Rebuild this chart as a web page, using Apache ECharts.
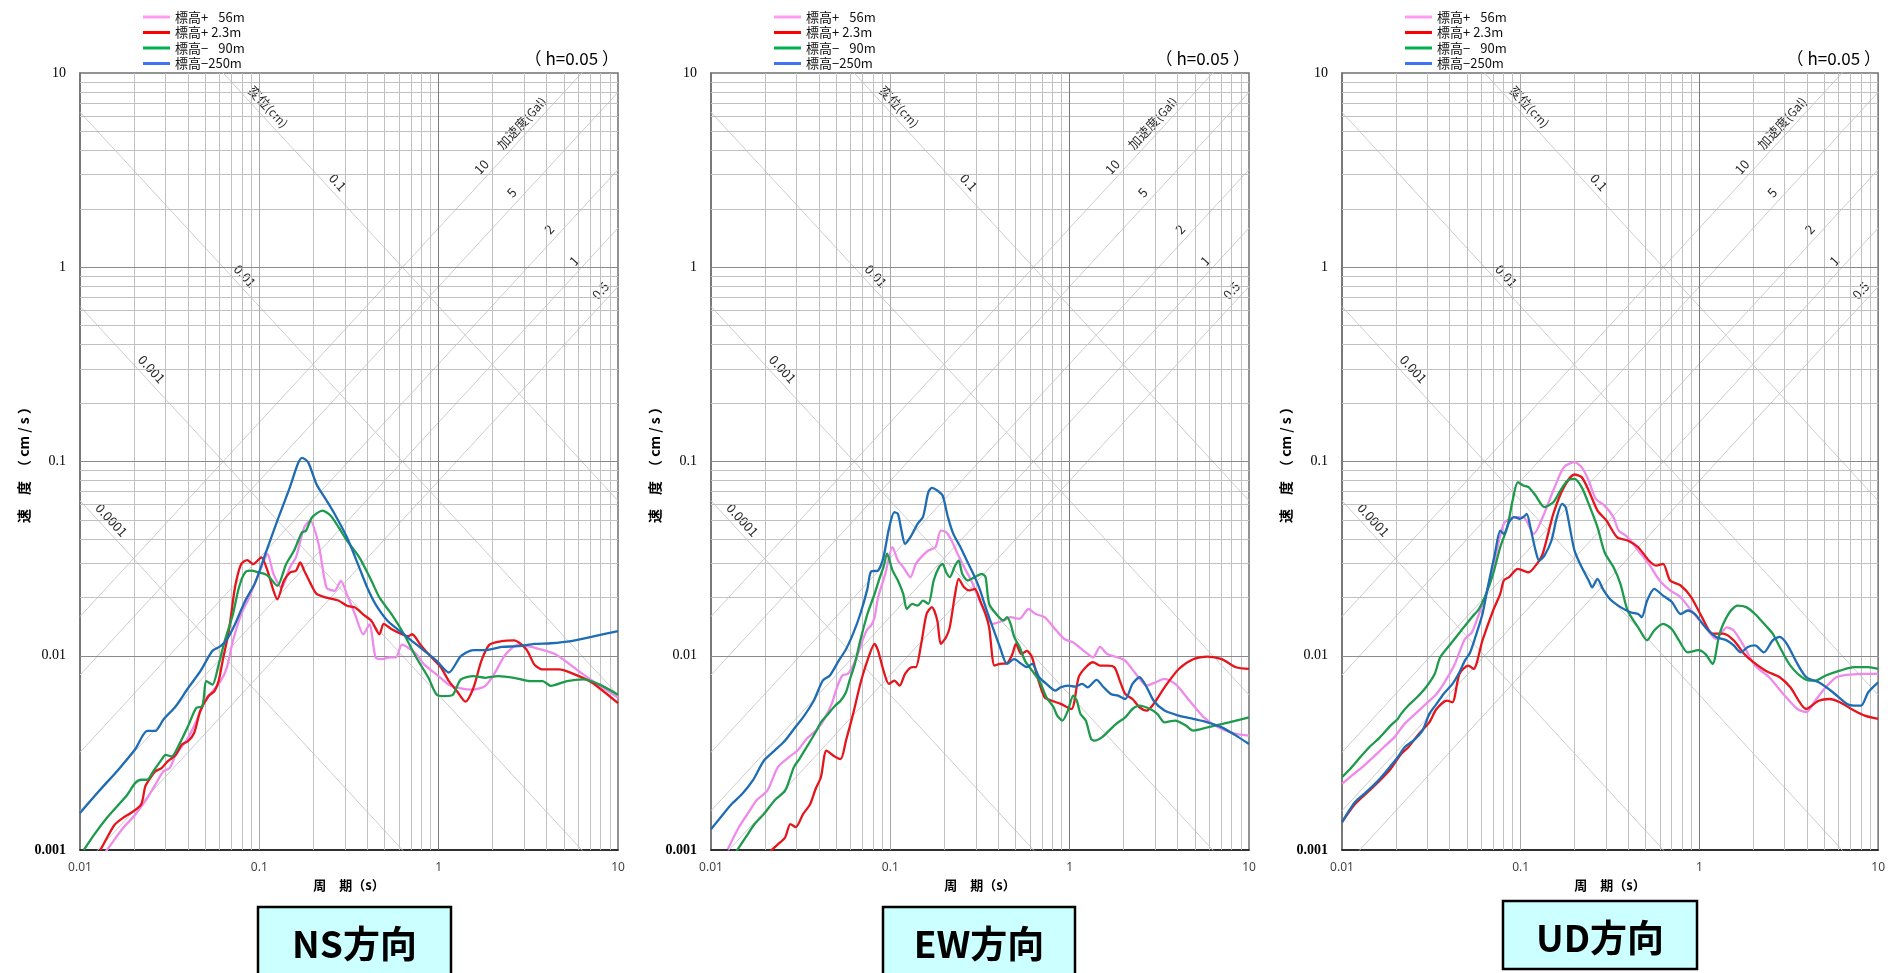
<!DOCTYPE html>
<html><head><meta charset="utf-8">
<script src="https://cdn.jsdelivr.net/npm/echarts@6/dist/echarts.min.js"></script>
<style>html,body{margin:0;padding:0;background:#fff}#c{width:1888px;height:973px}</style>
</head><body><div id="c"></div>
<script>
// ---------------- DATA ----------------
const PANEL_TITLES = ['NS方向', 'EW方向', 'UD方向'];
const SERIES_NAMES = ['標高+ \u200756m', '標高+ 2.3m', '標高− \u200790m', '標高−250m'];
const PERIOD_RANGE = [0.01, 10];
const VELOCITY_RANGE = [0.001, 10];
const DISP_LINES = [0.0001, 0.001, 0.01, 0.1];      // cm
const ACC_LINES = [0.5, 1, 2, 5, 10];               // Gal
const DAMPING_TEXT = '（ h=0.05 ）';

// NS
const NS_P56 = [[0.0132,0.00092],[0.0148,0.00106],[0.0173,0.00129],[0.0203,0.00152],[0.0237,0.00185],[0.0263,0.00217],[0.0292,0.00254],[0.0316,0.00264],[0.0342,0.00309],[0.040,0.00377],[0.0445,0.0046],[0.0493,0.00583],[0.0548,0.00657],[0.0608,0.0074],[0.0658,0.00867],[0.0712,0.0119],[0.0791,0.0163],[0.0877,0.0199],[0.0948,0.0238],[0.1026,0.0285],[0.111,0.0334],[0.120,0.0263],[0.133,0.0224],[0.148,0.0285],[0.160,0.0321],[0.178,0.0458],[0.192,0.0496],[0.214,0.0376],[0.237,0.0224],[0.263,0.0216],[0.285,0.0243],[0.308,0.0207],[0.342,0.0163],[0.380,0.0129],[0.411,0.0145],[0.445,0.0098],[0.481,0.0096],[0.533,0.0098],[0.577,0.0098],[0.624,0.0114],[0.676,0.0110],[0.750,0.0102],[0.832,0.0090],[0.975,0.0080],[1.14,0.0071],[1.33,0.0068],[1.56,0.0067],[1.82,0.0070],[2.03,0.0080],[2.37,0.0102],[2.77,0.0114],[3.42,0.0110],[4.45,0.0102],[6.08,0.0083],[7.91,0.0070],[10,0.0061]];
const NS_P23 = [[0.0130,0.0010],[0.0141,0.00115],[0.0156,0.00135],[0.0173,0.00146],[0.0192,0.00155],[0.0219,0.00171],[0.0231,0.00212],[0.0243,0.0023],[0.0263,0.00254],[0.0285,0.00264],[0.0308,0.00286],[0.0342,0.00309],[0.037,0.00349],[0.040,0.00363],[0.0433,0.0040],[0.0468,0.00518],[0.052,0.00619],[0.0562,0.00657],[0.0593,0.0074],[0.0624,0.0094],[0.0676,0.0134],[0.0731,0.0224],[0.0791,0.0296],[0.0855,0.0311],[0.0925,0.0296],[0.1026,0.0321],[0.111,0.0274],[0.120,0.0216],[0.126,0.0195],[0.137,0.0243],[0.148,0.0268],[0.160,0.0274],[0.169,0.0302],[0.178,0.0274],[0.192,0.0238],[0.208,0.0209],[0.237,0.0199],[0.277,0.0192],[0.308,0.0181],[0.342,0.0177],[0.380,0.0163],[0.422,0.0151],[0.468,0.0129],[0.493,0.0146],[0.548,0.0137],[0.624,0.0129],[0.676,0.0126],[0.711,0.0129],[0.791,0.0114],[0.877,0.0102],[1.03,0.0087],[1.14,0.0074],[1.26,0.0066],[1.41,0.0058],[1.56,0.0068],[1.73,0.0094],[1.92,0.0114],[2.25,0.0119],[2.63,0.0120],[3.08,0.0108],[3.42,0.0090],[3.80,0.0085],[4.68,0.0085],[5.77,0.0080],[7.11,0.0073],[10,0.0057]];
const NS_M90 = [[0.0105,0.00100],[0.0120,0.00120],[0.0141,0.00146],[0.0164,0.00171],[0.0183,0.00192],[0.0203,0.00221],[0.0219,0.0023],[0.0237,0.0023],[0.0256,0.00254],[0.0285,0.00292],[0.030,0.00309],[0.0324,0.00303],[0.0361,0.00356],[0.040,0.00433],[0.0445,0.00539],[0.0481,0.0055],[0.0507,0.0074],[0.0548,0.0071],[0.0593,0.0090],[0.0641,0.0119],[0.0712,0.0163],[0.0769,0.0224],[0.0832,0.0268],[0.0901,0.0274],[0.100,0.0268],[0.108,0.0263],[0.114,0.0253],[0.126,0.0229],[0.141,0.0296],[0.156,0.0347],[0.173,0.0432],[0.182,0.0440],[0.197,0.0516],[0.225,0.0559],[0.250,0.0526],[0.277,0.0458],[0.308,0.0391],[0.361,0.0321],[0.422,0.0243],[0.468,0.0199],[0.548,0.0163],[0.641,0.0129],[0.750,0.0098],[0.877,0.0077],[0.975,0.0063],[1.08,0.0062],[1.20,0.0063],[1.33,0.00755],[1.56,0.00785],[1.82,0.0077],[2.14,0.00785],[2.63,0.0077],[3.24,0.0074],[3.80,0.0074],[4.22,0.0070],[5.20,0.0074],[6.41,0.00755],[7.91,0.0071],[10,0.0063]];
const NS_M250 = [[0.01,0.00155],[0.0127,0.0020],[0.0164,0.0026],[0.0203,0.0033],[0.0237,0.0041],[0.0263,0.0041],[0.0292,0.0047],[0.0342,0.0055],[0.040,0.0068],[0.0468,0.0083],[0.0548,0.0106],[0.0608,0.0112],[0.0658,0.0121],[0.0731,0.0145],[0.0832,0.0191],[0.0948,0.0238],[0.108,0.0334],[0.126,0.0496],[0.148,0.0736],[0.164,0.0973],[0.173,0.1045],[0.187,0.0992],[0.208,0.0767],[0.237,0.063],[0.263,0.0537],[0.308,0.0407],[0.361,0.0284],[0.40,0.0224],[0.445,0.0184],[0.52,0.0151],[0.608,0.0134],[0.711,0.0119],[0.832,0.0106],[0.975,0.0094],[1.14,0.0082],[1.33,0.00995],[1.56,0.0107],[1.82,0.0107],[2.25,0.0111],[2.77,0.0112],[3.42,0.0115],[4.22,0.0116],[5.48,0.0119],[7.11,0.0125],[10,0.0134]];

// EW
const EW_P56 = [[0.0124,0.00101],[0.0143,0.00131],[0.0164,0.00159],[0.0179,0.00180],[0.0206,0.00202],[0.0236,0.00267],[0.0271,0.00300],[0.0304,0.00325],[0.0341,0.00373],[0.0392,0.00420],[0.0429,0.00473],[0.0471,0.00565],[0.0504,0.00688],[0.0540,0.00791],[0.0579,0.00806],[0.0620,0.0089],[0.0664,0.0104],[0.0712,0.0125],[0.0745,0.0137],[0.0780,0.0143],[0.0817,0.0158],[0.0855,0.0200],[0.0937,0.0264],[0.1028,0.0362],[0.1102,0.0309],[0.1180,0.0286],[0.1294,0.0254],[0.1387,0.0297],[0.1486,0.0322],[0.1629,0.0348],[0.1785,0.0362],[0.1912,0.0441],[0.2048,0.0433],[0.2194,0.0392],[0.2350,0.0341],[0.2577,0.0286],[0.2825,0.0244],[0.3097,0.0200],[0.3396,0.0164],[0.3723,0.0146],[0.4273,0.0152],[0.4685,0.0158],[0.5256,0.0155],[0.5895,0.0174],[0.6463,0.0164],[0.7253,0.0158],[0.8135,0.0140],[0.933,0.0122],[1.047,0.0117],[1.230,0.0104],[1.349,0.0098],[1.478,0.0111],[1.620,0.0102],[1.86,0.0098],[2.04,0.00944],[2.34,0.00806],[2.69,0.00702],[3.01,0.00730],[3.38,0.00760],[3.88,0.00716],[4.66,0.00587],[5.60,0.00482],[6.73,0.00428],[8.47,0.00396],[10,0.00388]];
const EW_P23 = [[0.0215,0.00099],[0.0236,0.00107],[0.0259,0.00116],[0.0277,0.00136],[0.0297,0.00131],[0.0326,0.00153],[0.0357,0.00172],[0.0383,0.00206],[0.0410,0.00237],[0.0440,0.00325],[0.0482,0.00306],[0.0528,0.00294],[0.0566,0.00366],[0.0620,0.00502],[0.0680,0.00716],[0.0745,0.00944],[0.0817,0.0115],[0.0855,0.0106],[0.0916,0.00838],[0.0982,0.00716],[0.1052,0.00745],[0.1128,0.00702],[0.1208,0.00806],[0.1324,0.00873],[0.1387,0.00873],[0.1486,0.0115],[0.1592,0.0164],[0.1705,0.0178],[0.1827,0.0152],[0.1912,0.0115],[0.2048,0.0125],[0.2144,0.0140],[0.2297,0.0208],[0.2405,0.0249],[0.2577,0.0225],[0.2761,0.0217],[0.2958,0.0221],[0.3169,0.0192],[0.3396,0.0164],[0.3556,0.0140],[0.3809,0.0089],[0.4081,0.00908],[0.4474,0.00915],[0.4794,0.0102],[0.5019,0.0115],[0.5378,0.0102],[0.5762,0.0106],[0.6172,0.0098],[0.6613,0.00775],[0.7253,0.00611],[0.7950,0.00587],[0.8917,0.00565],[1.023,0.00532],[1.122,0.00775],[1.230,0.00873],[1.349,0.00926],[1.478,0.0089],[1.620,0.0089],[1.776,0.00873],[1.903,0.00745],[2.04,0.00636],[2.24,0.00599],[2.45,0.00543],[2.69,0.00522],[2.94,0.00565],[3.38,0.00688],[4.06,0.00855],[4.88,0.0096],[5.87,0.0099],[7.05,0.0096],[8.47,0.00873],[10,0.00855]];
const EW_M90 = [[0.0139,0.00099],[0.0156,0.00116],[0.0175,0.00136],[0.0197,0.00153],[0.0226,0.00180],[0.0259,0.00202],[0.0290,0.00267],[0.0311,0.00294],[0.0341,0.00338],[0.0383,0.00404],[0.0410,0.00454],[0.0450,0.00502],[0.0493,0.00554],[0.0528,0.00587],[0.0566,0.00649],[0.0592,0.00745],[0.0634,0.00908],[0.0680,0.0120],[0.0745,0.0164],[0.0780,0.0185],[0.0817,0.0208],[0.0875,0.0254],[0.0916,0.0286],[0.0959,0.0335],[0.1028,0.0275],[0.1102,0.0244],[0.1180,0.0208],[0.1236,0.0174],[0.1324,0.0185],[0.1419,0.0181],[0.1520,0.0192],[0.1629,0.0185],[0.1745,0.0244],[0.1869,0.0286],[0.1957,0.0297],[0.2048,0.0269],[0.2144,0.0254],[0.2297,0.0291],[0.2405,0.0309],[0.2518,0.0264],[0.2698,0.0244],[0.2958,0.0254],[0.3243,0.0264],[0.3396,0.0254],[0.3556,0.0185],[0.3898,0.0164],[0.4273,0.0152],[0.4474,0.0158],[0.4685,0.0146],[0.4905,0.0125],[0.5256,0.0111],[0.5631,0.00944],[0.6172,0.00838],[0.6766,0.00745],[0.7421,0.00611],[0.8135,0.00543],[0.8517,0.00492],[0.912,0.00464],[0.977,0.00522],[1.047,0.00623],[1.096,0.00587],[1.148,0.00502],[1.230,0.00464],[1.318,0.00373],[1.380,0.00366],[1.512,0.00380],[1.658,0.00412],[1.817,0.00446],[2.04,0.00482],[2.24,0.00532],[2.45,0.00554],[2.81,0.00532],[3.08,0.00502],[3.38,0.00454],[3.88,0.00464],[4.45,0.00437],[4.88,0.00412],[5.87,0.00428],[7.73,0.00454],[10,0.00482]];
const EW_M250 = [[0.0100,0.00128],[0.0113,0.00147],[0.0130,0.00172],[0.0149,0.00194],[0.0171,0.00228],[0.0197,0.00288],[0.0226,0.00325],[0.0259,0.00366],[0.0290,0.00420],[0.0326,0.00482],[0.0374,0.00587],[0.0420,0.00745],[0.0460,0.00791],[0.0516,0.00944],[0.0566,0.0108],[0.0620,0.0130],[0.0680,0.0164],[0.0745,0.0221],[0.0780,0.0271],[0.0855,0.0275],[0.0916,0.0322],[0.0982,0.0450],[0.1052,0.0548],[0.1102,0.0537],[0.1154,0.0441],[0.1208,0.0377],[0.1294,0.0408],[0.1419,0.0478],[0.1520,0.0517],[0.1629,0.0695],[0.1705,0.0732],[0.1827,0.0709],[0.1957,0.0668],[0.2095,0.0517],[0.2245,0.0424],[0.2461,0.0362],[0.2698,0.0303],[0.2958,0.0254],[0.3169,0.0217],[0.3396,0.0178],[0.3723,0.0140],[0.4081,0.0111],[0.4474,0.00908],[0.4905,0.0096],[0.5378,0.00908],[0.5762,0.00873],[0.6172,0.00908],[0.6766,0.00775],[0.7421,0.00716],[0.8324,0.00662],[0.8917,0.00688],[0.977,0.00702],[1.071,0.00694],[1.175,0.00716],[1.259,0.00688],[1.412,0.00751],[1.547,0.00688],[1.697,0.00636],[1.86,0.00623],[2.04,0.00599],[2.24,0.00716],[2.45,0.00775],[2.69,0.00688],[2.94,0.00587],[3.38,0.00522],[4.06,0.00492],[4.88,0.00473],[5.87,0.00454],[7.05,0.00428],[8.47,0.00388],[10,0.00351]];

// UD
const UD_P56 = [[0.0100,0.00219],[0.0113,0.00241],[0.0130,0.00267],[0.0149,0.00300],[0.0171,0.00338],[0.0196,0.00380],[0.0224,0.00446],[0.0257,0.00502],[0.0295,0.00565],[0.0338,0.00636],[0.0370,0.00716],[0.0424,0.0089],[0.0487,0.0122],[0.0533,0.0132],[0.0584,0.0164],[0.0640,0.0208],[0.0701,0.0286],[0.0804,0.0478],[0.0921,0.0517],[0.1033,0.0517],[0.1184,0.0424],[0.1327,0.0517],[0.1522,0.0709],[0.1745,0.0935],[0.2000,0.0992],[0.2192,0.0935],[0.2401,0.0798],[0.2629,0.0642],[0.2946,0.0593],[0.3302,0.0517],[0.3535,0.0441],[0.3963,0.0408],[0.4543,0.0348],[0.5212,0.0297],[0.5980,0.0244],[0.6855,0.0217],[0.7853,0.0200],[0.9004,0.0171],[1.081,0.0140],[1.239,0.0122],[1.420,0.0140],[1.556,0.0135],[1.784,0.0111],[2.046,0.0089],[2.456,0.00775],[2.946,0.00636],[3.536,0.00532],[3.963,0.00512],[4.442,0.00587],[5.094,0.00688],[5.840,0.00775],[7.006,0.0080],[8.411,0.00806],[10,0.00806]];
const UD_P23 = [[0.0100,0.00139],[0.0118,0.00172],[0.0142,0.00202],[0.0163,0.00228],[0.0187,0.00261],[0.0214,0.00312],[0.0235,0.00338],[0.0269,0.00396],[0.0308,0.00454],[0.0338,0.00532],[0.0387,0.00587],[0.0415,0.00576],[0.0454,0.00806],[0.0509,0.0089],[0.0545,0.00855],[0.0611,0.0120],[0.0701,0.0171],[0.0768,0.0208],[0.0804,0.0244],[0.0861,0.0254],[0.0964,0.0280],[0.1106,0.0269],[0.1211,0.0291],[0.1327,0.0335],[0.1522,0.0537],[0.1745,0.0738],[0.2000,0.0857],[0.2192,0.0831],[0.2401,0.0709],[0.2689,0.0559],[0.3015,0.0497],[0.3456,0.0408],[0.3963,0.0392],[0.4543,0.0362],[0.5212,0.0309],[0.5713,0.0291],[0.6258,0.0297],[0.6855,0.0244],[0.7853,0.0230],[0.9004,0.0200],[1.033,0.0158],[1.184,0.0130],[1.357,0.0130],[1.556,0.0120],[1.784,0.0102],[1.955,0.00944],[2.346,0.00838],[2.815,0.00775],[3.227,0.00688],[3.963,0.00532],[4.649,0.00587],[5.331,0.00599],[6.112,0.00576],[7.333,0.00522],[8.411,0.00492],[10,0.00473]];
const UD_M90 = [[0.0100,0.00237],[0.0111,0.00261],[0.0124,0.00294],[0.0142,0.00338],[0.0163,0.00380],[0.0187,0.00437],[0.0205,0.00473],[0.0214,0.00502],[0.0235,0.00554],[0.0263,0.00611],[0.0295,0.00688],[0.0330,0.00806],[0.0354,0.0098],[0.0405,0.0115],[0.0465,0.0135],[0.0533,0.0158],[0.0584,0.0174],[0.0640,0.0208],[0.0701,0.0264],[0.0768,0.0362],[0.0841,0.0459],[0.0901,0.0630],[0.0964,0.0783],[0.1033,0.0752],[0.1106,0.0738],[0.1211,0.0668],[0.1357,0.0582],[0.1522,0.0617],[0.1667,0.0709],[0.1827,0.0798],[0.2000,0.0814],[0.2192,0.0738],[0.2401,0.0605],[0.2689,0.0459],[0.2946,0.0341],[0.3302,0.0286],[0.3617,0.0234],[0.3963,0.0171],[0.4543,0.0140],[0.5094,0.0120],[0.5584,0.0135],[0.6258,0.0146],[0.7014,0.0137],[0.7681,0.0120],[0.8604,0.0104],[0.9865,0.0107],[1.081,0.0102],[1.184,0.00908],[1.297,0.0130],[1.453,0.0164],[1.629,0.0181],[1.826,0.0178],[2.046,0.0164],[2.346,0.0143],[2.570,0.0130],[2.815,0.0111],[3.227,0.0089],[3.873,0.0076],[4.442,0.00745],[5.094,0.00791],[6.112,0.00838],[7.333,0.00873],[8.803,0.00873],[10,0.00855]];
const UD_M250 = [[0.0100,0.00139],[0.0118,0.00176],[0.0136,0.00198],[0.0156,0.00223],[0.0178,0.00256],[0.0205,0.00300],[0.0224,0.00338],[0.0251,0.00366],[0.0282,0.00412],[0.0308,0.00502],[0.0338,0.00565],[0.0370,0.00636],[0.0415,0.00716],[0.0454,0.00822],[0.0487,0.00944],[0.0521,0.0104],[0.0558,0.0125],[0.0611,0.0164],[0.0654,0.0225],[0.0717,0.0335],[0.0768,0.0441],[0.0804,0.0424],[0.0861,0.0487],[0.0921,0.0517],[0.0987,0.0507],[0.1033,0.0517],[0.1081,0.0537],[0.1132,0.0459],[0.1211,0.0348],[0.1268,0.0309],[0.1357,0.0328],[0.1487,0.0392],[0.1593,0.0517],[0.1705,0.0605],[0.1785,0.0582],[0.1912,0.0424],[0.2000,0.0348],[0.2192,0.0286],[0.2401,0.0244],[0.2512,0.0225],[0.2689,0.0249],[0.2880,0.0221],[0.3155,0.0196],[0.3617,0.0178],[0.4147,0.0167],[0.4543,0.0164],[0.4755,0.0158],[0.5094,0.0192],[0.5584,0.0221],[0.6258,0.0204],[0.7014,0.0189],[0.7853,0.0164],[0.8604,0.0171],[0.9426,0.0164],[1.081,0.0140],[1.239,0.0125],[1.420,0.0120],[1.556,0.0113],[1.705,0.0104],[1.867,0.0111],[2.046,0.0113],[2.294,0.0104],[2.570,0.0120],[2.815,0.0125],[3.083,0.0115],[3.536,0.00908],[3.963,0.00775],[4.649,0.0073],[5.580,0.00649],[6.694,0.00565],[7.333,0.00554],[8.035,0.00554],[8.803,0.00649],[10,0.0073]];

const PANEL_DATA = [
  [NS_P56, NS_P23, NS_M90, NS_M250],
  [EW_P56, EW_P23, EW_M90, EW_M250],
  [UD_P56, UD_P23, UD_M90, UD_M250]
];

// ---------------- LAYOUT / STYLE ----------------
const GRID_LEFTS = [80, 711, 1342];
const GRID_TOP = 73, GRID_W = 538, GRID_H = 777;
const LINE_COLORS = ['#EE8BEA', '#E5151C', '#1E9A4C', '#1E6CB3'];
const LEGEND_COLORS = ['#FF9CF2', '#FF0000', '#00B050', '#3F73F5'];
const JP = '"Noto Sans CJK JP", "Noto Sans", sans-serif';
const SERIF = '"Liberation Serif", "DejaVu Serif", serif';
const DISP_LABELS = [
  {D: 0.0001, T: 0.0150, text: '0.0001'},
  {D: 0.001, T: 0.0251, text: '0.001'},
  {D: 0.01, T: 0.0832, text: '0.01'},
  {D: 0.1, T: 0.274, text: '0.1'},
  {D: 0.1, T: 0.112, text: '変位{s|(cm)}'}
];
const ACC_LABELS = [
  {A: 10, T: 1.73, text: '10'},
  {A: 5, T: 2.55, text: '5'},
  {A: 2, T: 4.13, text: '2'},
  {A: 1, T: 5.68, text: '1'},
  {A: 0.5, T: 7.98, text: '0.5'},
  {A: 10, T: 2.90, text: '加速度{s|(Gal)}'}
];
const TWO_PI = 2 * Math.PI;
const dispV = (D, T) => TWO_PI * D / T;
const accV = (A, T) => A * T / TWO_PI;

function fmt(v) { return String(Number(v.toPrecision(1))); }

const xMinor = [], yMinor = [];
for (let e = -2; e <= 0; e++) for (let k = 2; k <= 9; k++) xMinor.push(k * Math.pow(10, e));
for (let e = -3; e <= 0; e++) for (let k = 2; k <= 9; k++) yMinor.push(k * Math.pow(10, e));

const series = [];
GRID_LEFTS.forEach((gl, gi) => {
  const mlData = [];
  xMinor.forEach(v => mlData.push({xAxis: v}));
  yMinor.forEach(v => mlData.push({yAxis: v}));
  [0.1].forEach(v => mlData.push({xAxis: v, lineStyle: {color: '#a8a8a8'}}));
  [1].forEach(v => mlData.push({xAxis: v, lineStyle: {color: '#7a7a7a'}}));
  [0.01, 0.1, 1].forEach(v => mlData.push({yAxis: v, lineStyle: {color: '#8a8a8a'}}));
  series.push({
    type: 'line', xAxisIndex: gi, yAxisIndex: gi, data: [[0.01, 0.001]],
    symbol: 'none', showSymbol: false, silent: true, z: 1, lineStyle: {opacity: 0},
    markLine: {silent: true, symbol: ['none', 'none'], label: {show: false}, animation: false,
      lineStyle: {color: '#c0c0c0', width: 1, type: 'solid'}, data: mlData}
  });
  DISP_LINES.forEach(D => series.push({
    type: 'line', xAxisIndex: gi, yAxisIndex: gi, silent: true, z: 2, symbol: 'none', clip: true,
    lineStyle: {color: '#cdcdcd', width: 1},
    data: [[PERIOD_RANGE[0], dispV(D, PERIOD_RANGE[0])], [PERIOD_RANGE[1], dispV(D, PERIOD_RANGE[1])]]
  }));
  ACC_LINES.forEach(A => series.push({
    type: 'line', xAxisIndex: gi, yAxisIndex: gi, silent: true, z: 2, symbol: 'none', clip: true,
    lineStyle: {color: '#cdcdcd', width: 1},
    data: [[PERIOD_RANGE[0], accV(A, PERIOD_RANGE[0])], [PERIOD_RANGE[1], accV(A, PERIOD_RANGE[1])]]
  }));
  const labs = [];
  DISP_LABELS.forEach(l => labs.push({kind: 'D', val: l.D, T: l.T, text: l.text}));
  ACC_LABELS.forEach(l => labs.push({kind: 'A', val: l.A, T: l.T, text: l.text}));
  series.push({
    type: 'custom', xAxisIndex: gi, yAxisIndex: gi, silent: true, z: 3,
    data: labs.map(l => [l.T, l.kind === 'D' ? dispV(l.val, l.T) : accV(l.val, l.T)]),
    renderItem: function (params, api) {
      const l = labs[params.dataIndex];
      const T = api.value(0), V = api.value(1);
      const p = api.coord([T, V]);
      const q = api.coord([T * 2, l.kind === 'D' ? V / 2 : V * 2]);
      const ang = Math.atan2(-(q[1] - p[1]), q[0] - p[0]);
      return {
        type: 'text', x: p[0], y: p[1] - 15, rotation: ang,
        style: {text: l.text, align: 'center', verticalAlign: 'middle', fill: '#2a2a2a',
          font: '13px ' + JP, rich: {s: {fontSize: 12, fill: '#2a2a2a', fontFamily: JP}}}
      };
    }
  });
  PANEL_DATA[gi].forEach((d, k) => series.push({
    name: SERIES_NAMES[k], type: 'line', xAxisIndex: gi, yAxisIndex: gi, data: d,
    symbol: 'none', showSymbol: false, z: 5 + k, clip: true, smooth: 0.25,
    lineStyle: {color: LINE_COLORS[k], width: 2.3}, itemStyle: {color: LINE_COLORS[k]}
  }));
});

const graphic = [];
GRID_LEFTS.forEach((gl) => {
  graphic.push({type: 'text', x: gl + GRID_W + 1, y: 59,
    style: {text: DAMPING_TEXT, align: 'right', verticalAlign: 'middle', fill: '#000', font: '17px "Noto Sans CJK JP", sans-serif'}});
});
const BOXES = [
  {x: 258, y: 907, w: 193, h: 80, cx: 354.5, cy: 944},
  {x: 883, y: 907, w: 192, h: 80, cx: 979, cy: 944},
  {x: 1503, y: 901, w: 194, h: 68, cx: 1600, cy: 938}
];
BOXES.forEach((b, i) => {
  graphic.push({type: 'rect', shape: {x: b.x, y: b.y, width: b.w, height: b.h},
    style: {fill: '#CCFFFF', stroke: '#000', lineWidth: 2.5}});
  graphic.push({type: 'text', x: b.cx, y: b.cy,
    style: {text: PANEL_TITLES[i], align: 'center', verticalAlign: 'middle', fill: '#000',
      font: 'bold 37px ' + JP}});
});

const option = {
  animation: false,
  textStyle: {fontFamily: JP},
  grid: GRID_LEFTS.map(l => ({left: l, top: GRID_TOP, width: GRID_W, height: GRID_H,
    show: true, borderColor: '#707070', borderWidth: 1.5, backgroundColor: 'transparent'})),
  xAxis: GRID_LEFTS.map((l, i) => ({
    type: 'log', logBase: 10, gridIndex: i, min: PERIOD_RANGE[0], max: PERIOD_RANGE[1],
    name: '周　期（s）', nameLocation: 'middle', nameGap: 29,
    nameTextStyle: {fontWeight: 'bold', fontSize: 13, color: '#000', fontFamily: JP},
    axisLine: {show: true, lineStyle: {color: '#111', width: 1.5}},
    axisTick: {show: false}, splitLine: {show: false},
    axisLabel: {fontSize: 12, color: '#444', margin: 12, fontFamily: '"Noto Sans", sans-serif', formatter: fmt}
  })),
  yAxis: GRID_LEFTS.map((l, i) => ({
    type: 'log', logBase: 10, gridIndex: i, min: VELOCITY_RANGE[0], max: VELOCITY_RANGE[1],
    name: '速　度　（ cm / s ）', nameLocation: 'middle', nameGap: 47, nameRotate: 90,
    nameTextStyle: {fontWeight: 'bold', fontSize: 14, color: '#000', fontFamily: JP},
    axisLine: {show: true, lineStyle: {color: '#707070', width: 1.5}},
    axisTick: {show: false}, splitLine: {show: false},
    axisLabel: {fontSize: 14, color: '#000', margin: 14, fontFamily: SERIF,
      formatter: v => { const s = fmt(v); return s === '0.001' ? '{b|' + s + '}' : s; },
      rich: {b: {fontWeight: 'bold', fontSize: 14, fontFamily: SERIF, color: '#000'}}}
  })),
  legend: GRID_LEFTS.map(l => ({
    orient: 'vertical', left: l + 63, top: 10, padding: 0, itemWidth: 27, itemHeight: 3, itemGap: 1.5,
    icon: 'rect', selectedMode: false,
    textStyle: {fontSize: 13, lineHeight: 14, color: '#111', fontFamily: JP},
    data: SERIES_NAMES.map((n, k) => ({name: n, itemStyle: {color: LEGEND_COLORS[k]}}))
  })),
  graphic: graphic,
  series: series
};

const chart = echarts.init(document.getElementById('c'), null, {renderer: 'canvas'});
chart.setOption(option);
</script></body></html>
